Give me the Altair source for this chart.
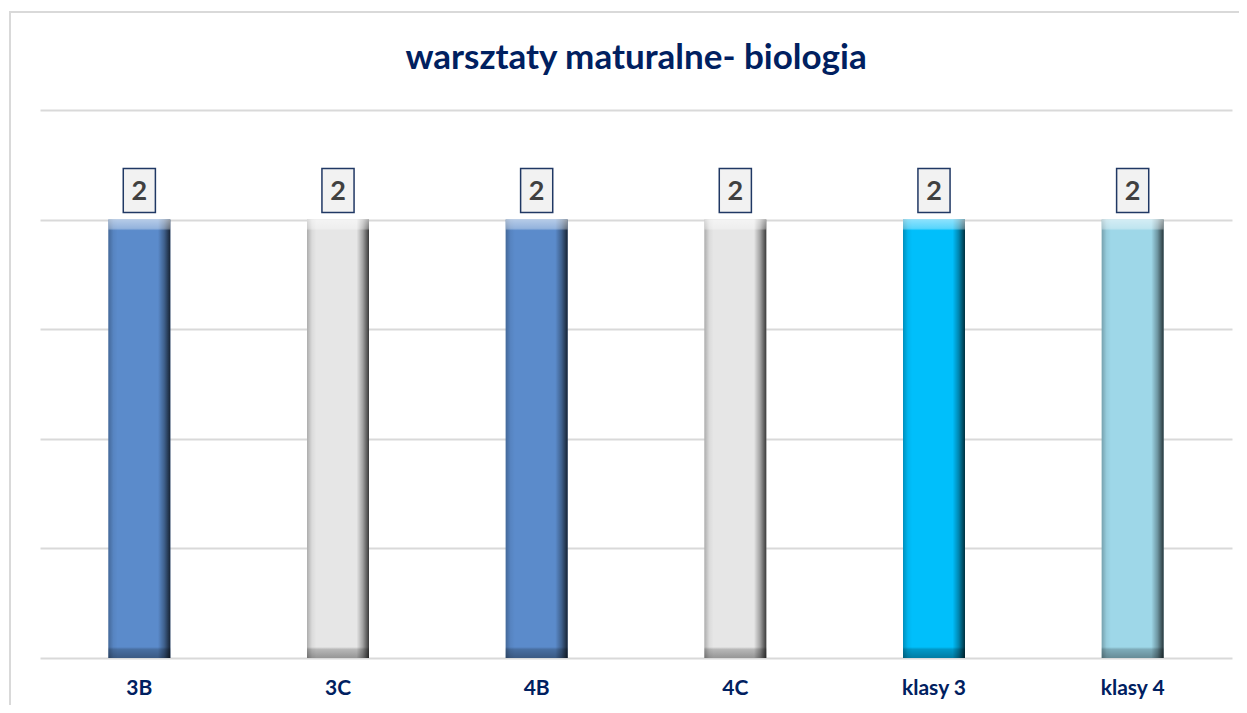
import altair as alt
import pandas as pd

categories = ["3B", "3C", "4B", "4C", "klasy 3", "klasy 4"]
values = [2, 2, 2, 2, 2, 2]
bar_colors = ["#5B8BCB", "#E6E6E6", "#5B8BCB", "#E6E6E6", "#00BFFB", "#9ED7E8"]
title_text = "warsztaty maturalne- biologia"

df = pd.DataFrame({"cat": categories, "val": values, "col": bar_colors})

W, H = 1192, 548

x = alt.X("cat:N", sort=categories,
          scale=alt.Scale(paddingInner=0.69, paddingOuter=0.345),
          axis=alt.Axis(title=None, labelAngle=0, labelFont="Lato", labelFontWeight="bold",
                        labelFontSize=21, labelColor="#002060", labelPadding=19,
                        ticks=False, domain=False, grid=False))
y = alt.Y("val:Q", scale=alt.Scale(domain=[0, 2.5], nice=False),
          axis=alt.Axis(title=None, labels=False, ticks=False, domain=False,
                        values=[0, 0.5, 1, 1.5, 2, 2.5], grid=True,
                        gridColor="#D9D9D9", gridWidth=2))

base = alt.Chart(df)

frame = base.mark_rect(fillOpacity=0, stroke="#D9D9D9", strokeWidth=2).encode(
    x=alt.value(-30), x2=alt.value(1250), y=alt.value(-98), y2=alt.value(700)
).transform_filter("datum.cat == '3B'")

bars = base.mark_bar(size=62).encode(
    x=x, y=y,
    color=alt.Color("col:N", scale=None)
)

shade_h = base.mark_bar(size=62, color=alt.Gradient(
    gradient="linear", x1=0, y1=0, x2=1, y2=0,
    stops=[alt.GradientStop(offset=0, color="rgba(0,0,0,0.25)"),
           alt.GradientStop(offset=0.08, color="rgba(0,0,0,0.05)"),
           alt.GradientStop(offset=0.15, color="rgba(0,0,0,0)"),
           alt.GradientStop(offset=0.8, color="rgba(0,0,0,0)"),
           alt.GradientStop(offset=0.9, color="rgba(0,0,0,0.3)"),
           alt.GradientStop(offset=1, color="rgba(0,0,0,0.75)")])).encode(x=x, y=y)

shade_v = base.mark_bar(size=62, color=alt.Gradient(
    gradient="linear", x1=0, y1=0, x2=0, y2=1,
    stops=[alt.GradientStop(offset=0, color="rgba(255,255,255,0.55)"),
           alt.GradientStop(offset=0.02, color="rgba(255,255,255,0.35)"),
           alt.GradientStop(offset=0.025, color="rgba(255,255,255,0)"),
           alt.GradientStop(offset=0.975, color="rgba(0,0,0,0)"),
           alt.GradientStop(offset=0.98, color="rgba(0,0,0,0.2)"),
           alt.GradientStop(offset=1, color="rgba(0,0,0,0.35)")])).encode(x=x, y=y)

boxes = base.mark_point(
    shape="M-0.73,-1L0.73,-1L0.73,1L-0.73,1Z", size=1936, filled=True,
    fill="#F2F2F2", stroke="#203864", strokeWidth=1.5, opacity=1, yOffset=-29
).encode(x=x, y=y)

labels = base.mark_text(
    font="Lato", fontWeight="bold", fontSize=27, color="#404040",
    baseline="middle", dy=-28
).encode(x=x, y=y, text="val:Q")

chart = alt.layer(frame, bars, shade_h, shade_v, boxes, labels).properties(
    width=W, height=H,
    title=alt.TitleParams(title_text, font="Lato", fontSize=35, fontWeight="bold",
                          color="#002060", anchor="middle", offset=-65),
    autosize=alt.AutoSizeParams(type="none"),
    padding={"left": 32, "top": 102, "right": 7, "bottom": 47}
).configure(background="white").configure_view(stroke=None)

chart.save("out.html", embed_options={"renderer": "svg", "actions": False})
